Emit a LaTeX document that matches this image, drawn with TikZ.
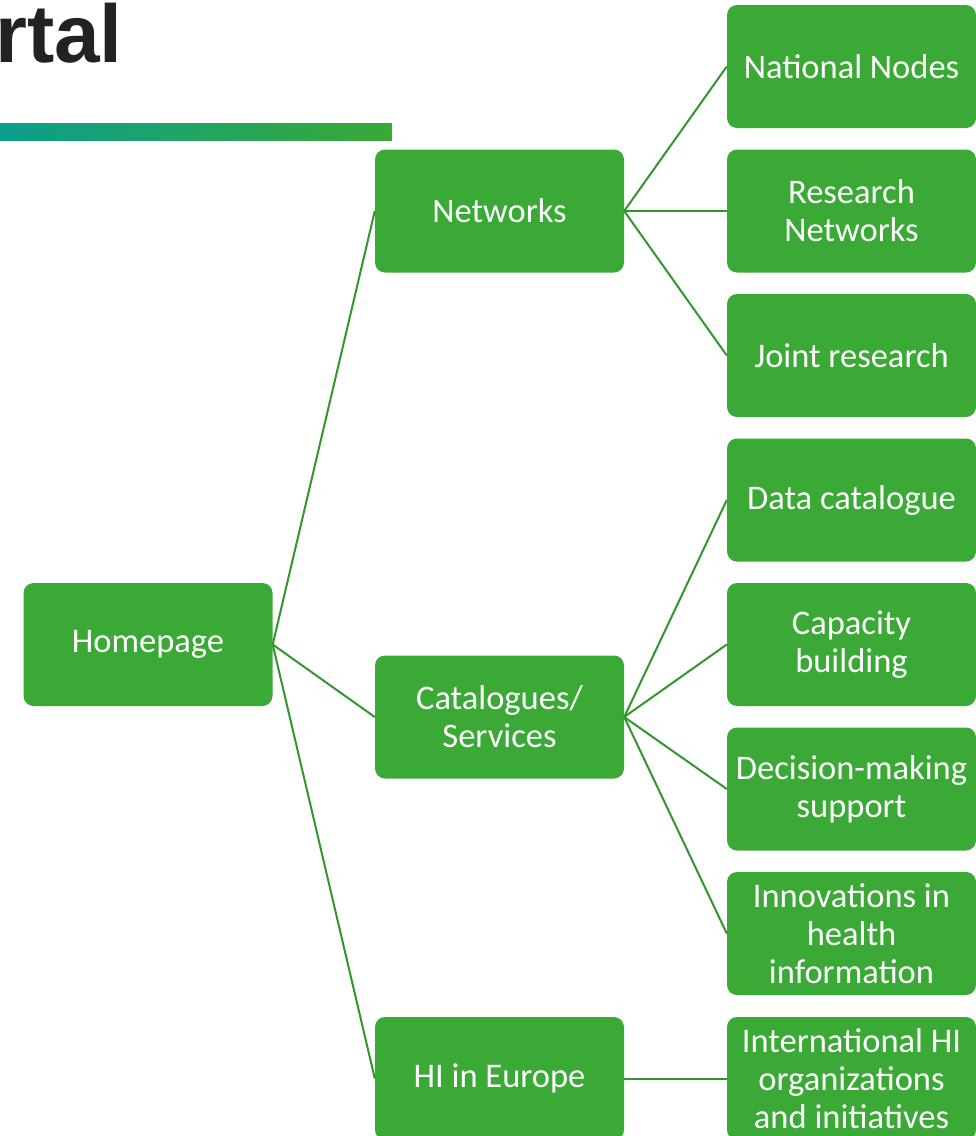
\documentclass[tikz,border=0pt]{standalone}
\usepackage{fontspec}
\setmainfont{Carlito}
\newfontfamily\titlefont{Liberation Sans}
\definecolor{boxgreen}{RGB}{58,169,53}
\definecolor{linegreen}{RGB}{50,150,45}
\definecolor{barteal}{RGB}{10,158,142}
\definecolor{titlegray}{RGB}{34,34,34}
\begin{document}
\begin{tikzpicture}[x=1pt,y=-1pt,
	box/.style={fill=boxgreen,rounded corners=10pt,minimum width=249pt,minimum height=123pt,
		inner sep=0pt,text=white,align=center,font=\fontsize{34.5}{38}\selectfont},
	link/.style={draw=linegreen,line width=2pt}]
	\useasboundingbox (0,0) rectangle (976,1136);
	\clip (0,0) rectangle (976,1136);
	% title and bar
	\node (title) at(-5,62)[anchor=base west,inner sep=0pt,text=titlegray,
		font=\titlefont\bfseries\fontsize{82}{90}\selectfont]{rtal};
	\shade[left color=barteal,right color=boxgreen](0,123) rectangle (392,140);
	% levels
	\node (home) at(148,644.5)[box]{Homepage};
	\node (net) at(499.5,211)[box]{Networks};
	\node (cat) at(499.5,717)[box]{Catalogues/\\Services};
	\node (hie) at(499.5,1078.5)[box]{HI in Europe};
	\node (nn) at(851.5,66.5)[box]{National Nodes};
	\node (rn) at(851.5,211)[box]{Research\\Networks};
	\node (jr) at(851.5,355.5)[box]{Joint research};
	\node (dc) at(851.5,500)[box]{Data catalogue};
	\node (cb) at(851.5,644.5)[box]{Capacity\\building};
	\node (dm) at(851.5,789)[box]{Decision-making\\support};
	\node (ih) at(851.5,933.5)[box]{Innovations in\\health\\information};
	\node (io) at(851.5,1078.5)[box]{International HI\\organizations\\and initiatives};
	% links
	\foreach \t in {net,cat,hie}
		\draw[link](home.east)--(\t.west);
	\foreach \t in {nn,rn,jr}
		\draw[link](net.east)--(\t.west);
	\foreach \t in {dc,cb,dm,ih}
		\draw[link](cat.east)--(\t.west);
	\draw[link](hie.east)--(io.west);
\end{tikzpicture}
\end{document}
